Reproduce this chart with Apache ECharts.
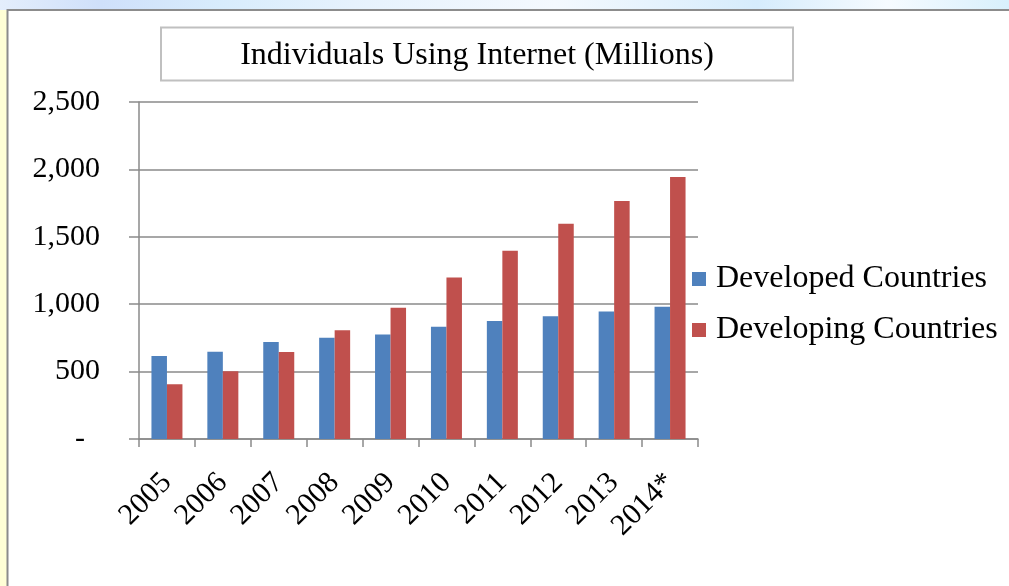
<!DOCTYPE html>
<html>
<head>
<meta charset="utf-8">
<script src="https://cdn.jsdelivr.net/npm/echarts@6/dist/echarts.min.js"></script>
<style>
  html, body { margin: 0; padding: 0; background: #ffffff; }
  #chart { width: 1009px; height: 586px; }
</style>
</head>
<body>
<div id="chart"></div>
<script>
// Internet users, millions
const years = ['2005', '2006', '2007', '2008', '2009', '2010', '2011', '2012', '2013', '2014*'];
const developed = [615, 648, 720, 752, 776, 832, 875, 910, 946, 981];
const developing = [406, 503, 646, 806, 974, 1198, 1396, 1596, 1765, 1944];
const yTicks = [0, 500, 1000, 1500, 2000, 2500];

const FONT = '"Liberation Serif", "Times New Roman", serif';
const BLUE = '#4f81bd';
const RED = '#c0504d';
const GRID = '#8a8a8a';

const chart = echarts.init(document.getElementById('chart'), null, { renderer: 'canvas' });

function yLabel(v) {
  if (v === 0) return '-  ';
  return v.toLocaleString('en-US');
}

chart.setOption({
  animation: false,
  backgroundColor: '#ffffff',
  textStyle: { fontFamily: FONT },
  graphic: [
    // slide backdrop around the chart frame
    {
      type: 'rect', silent: true, z: -10,
      shape: { x: 0, y: 0, width: 1009, height: 10 },
      style: {
        fill: new echarts.graphic.LinearGradient(0, 0, 1, 0, [
          { offset: 0.00, color: '#e4eefc' },
          { offset: 0.10, color: '#cfe0fa' },
          { offset: 0.22, color: '#d8ecfc' },
          { offset: 0.35, color: '#e6f2fd' },
          { offset: 0.55, color: '#f4f9fe' },
          { offset: 0.75, color: '#d6ecfc' },
          { offset: 0.88, color: '#f6fbff' },
          { offset: 1.00, color: '#d8f0fc' }
        ])
      }
    },
    {
      type: 'rect', silent: true, z: -10,
      shape: { x: 0, y: 10, width: 7, height: 576 },
      style: { fill: '#ffffd6' }
    },
    {
      type: 'polyline', silent: true, z: -5,
      shape: { points: [[7.5, 586], [7.5, 10], [1009, 10]] },
      style: { stroke: '#8c8c8c', lineWidth: 2, fill: null }
    },
    // title box
    {
      type: 'rect', silent: true, z: 1,
      shape: { x: 161, y: 27.5, width: 632, height: 53 },
      style: { fill: '#ffffff', stroke: '#c0c0c0', lineWidth: 2 }
    }
  ],
  title: {
    text: 'Individuals Using Internet (Millions)',
    left: 477,
    top: 40,
    padding: 0,
    textAlign: 'center',
    z: 5,
    textStyle: { fontFamily: FONT, fontSize: 32, lineHeight: 32, fontWeight: 'normal', color: '#000000' }
  },
  legend: {
    orient: 'vertical',
    left: 692,
    top: 263,
    padding: 0,
    itemWidth: 14,
    itemHeight: 14,
    itemGap: 19,
    icon: 'rect',
    data: ['Developed Countries', 'Developing Countries'],
    textStyle: { fontFamily: FONT, fontSize: 32, color: '#000000', lineHeight: 32, padding: [0, 0, 0, 5] }
  },
  grid: { left: 139, right: 311, top: 102, bottom: 147, containLabel: false },
  xAxis: {
    type: 'category',
    data: years,
    axisLine: { show: true, lineStyle: { color: GRID, width: 1.5 } },
    axisTick: { show: true, length: 8, lineStyle: { color: GRID, width: 1.5 } },
    axisLabel: {
      rotate: 45, margin: 39, interval: 0,
      fontFamily: FONT, fontSize: 30, color: '#000000'
    }
  },
  yAxis: {
    type: 'value',
    min: 0,
    max: 2500,
    interval: 500,
    axisLine: { show: true, lineStyle: { color: GRID, width: 1.5 } },
    axisTick: { show: true, inside: false, length: 10, lineStyle: { color: GRID, width: 1.5 } },
    splitLine: { show: true, lineStyle: { color: GRID, width: 1.5 } },
    axisLabel: {
      margin: 39,
      fontFamily: FONT, fontSize: 30, color: '#000000',
      formatter: function (v) { return yTicks.indexOf(v) >= 0 ? yLabel(v) : ''; }
    }
  },
  series: [
    {
      name: 'Developed Countries',
      type: 'bar',
      data: developed,
      barWidth: 15.5,
      barGap: '0%',
      itemStyle: { color: BLUE }
    },
    {
      name: 'Developing Countries',
      type: 'bar',
      data: developing,
      barWidth: 15.5,
      barGap: '0%',
      itemStyle: { color: RED }
    }
  ]
});
</script>
</body>
</html>
